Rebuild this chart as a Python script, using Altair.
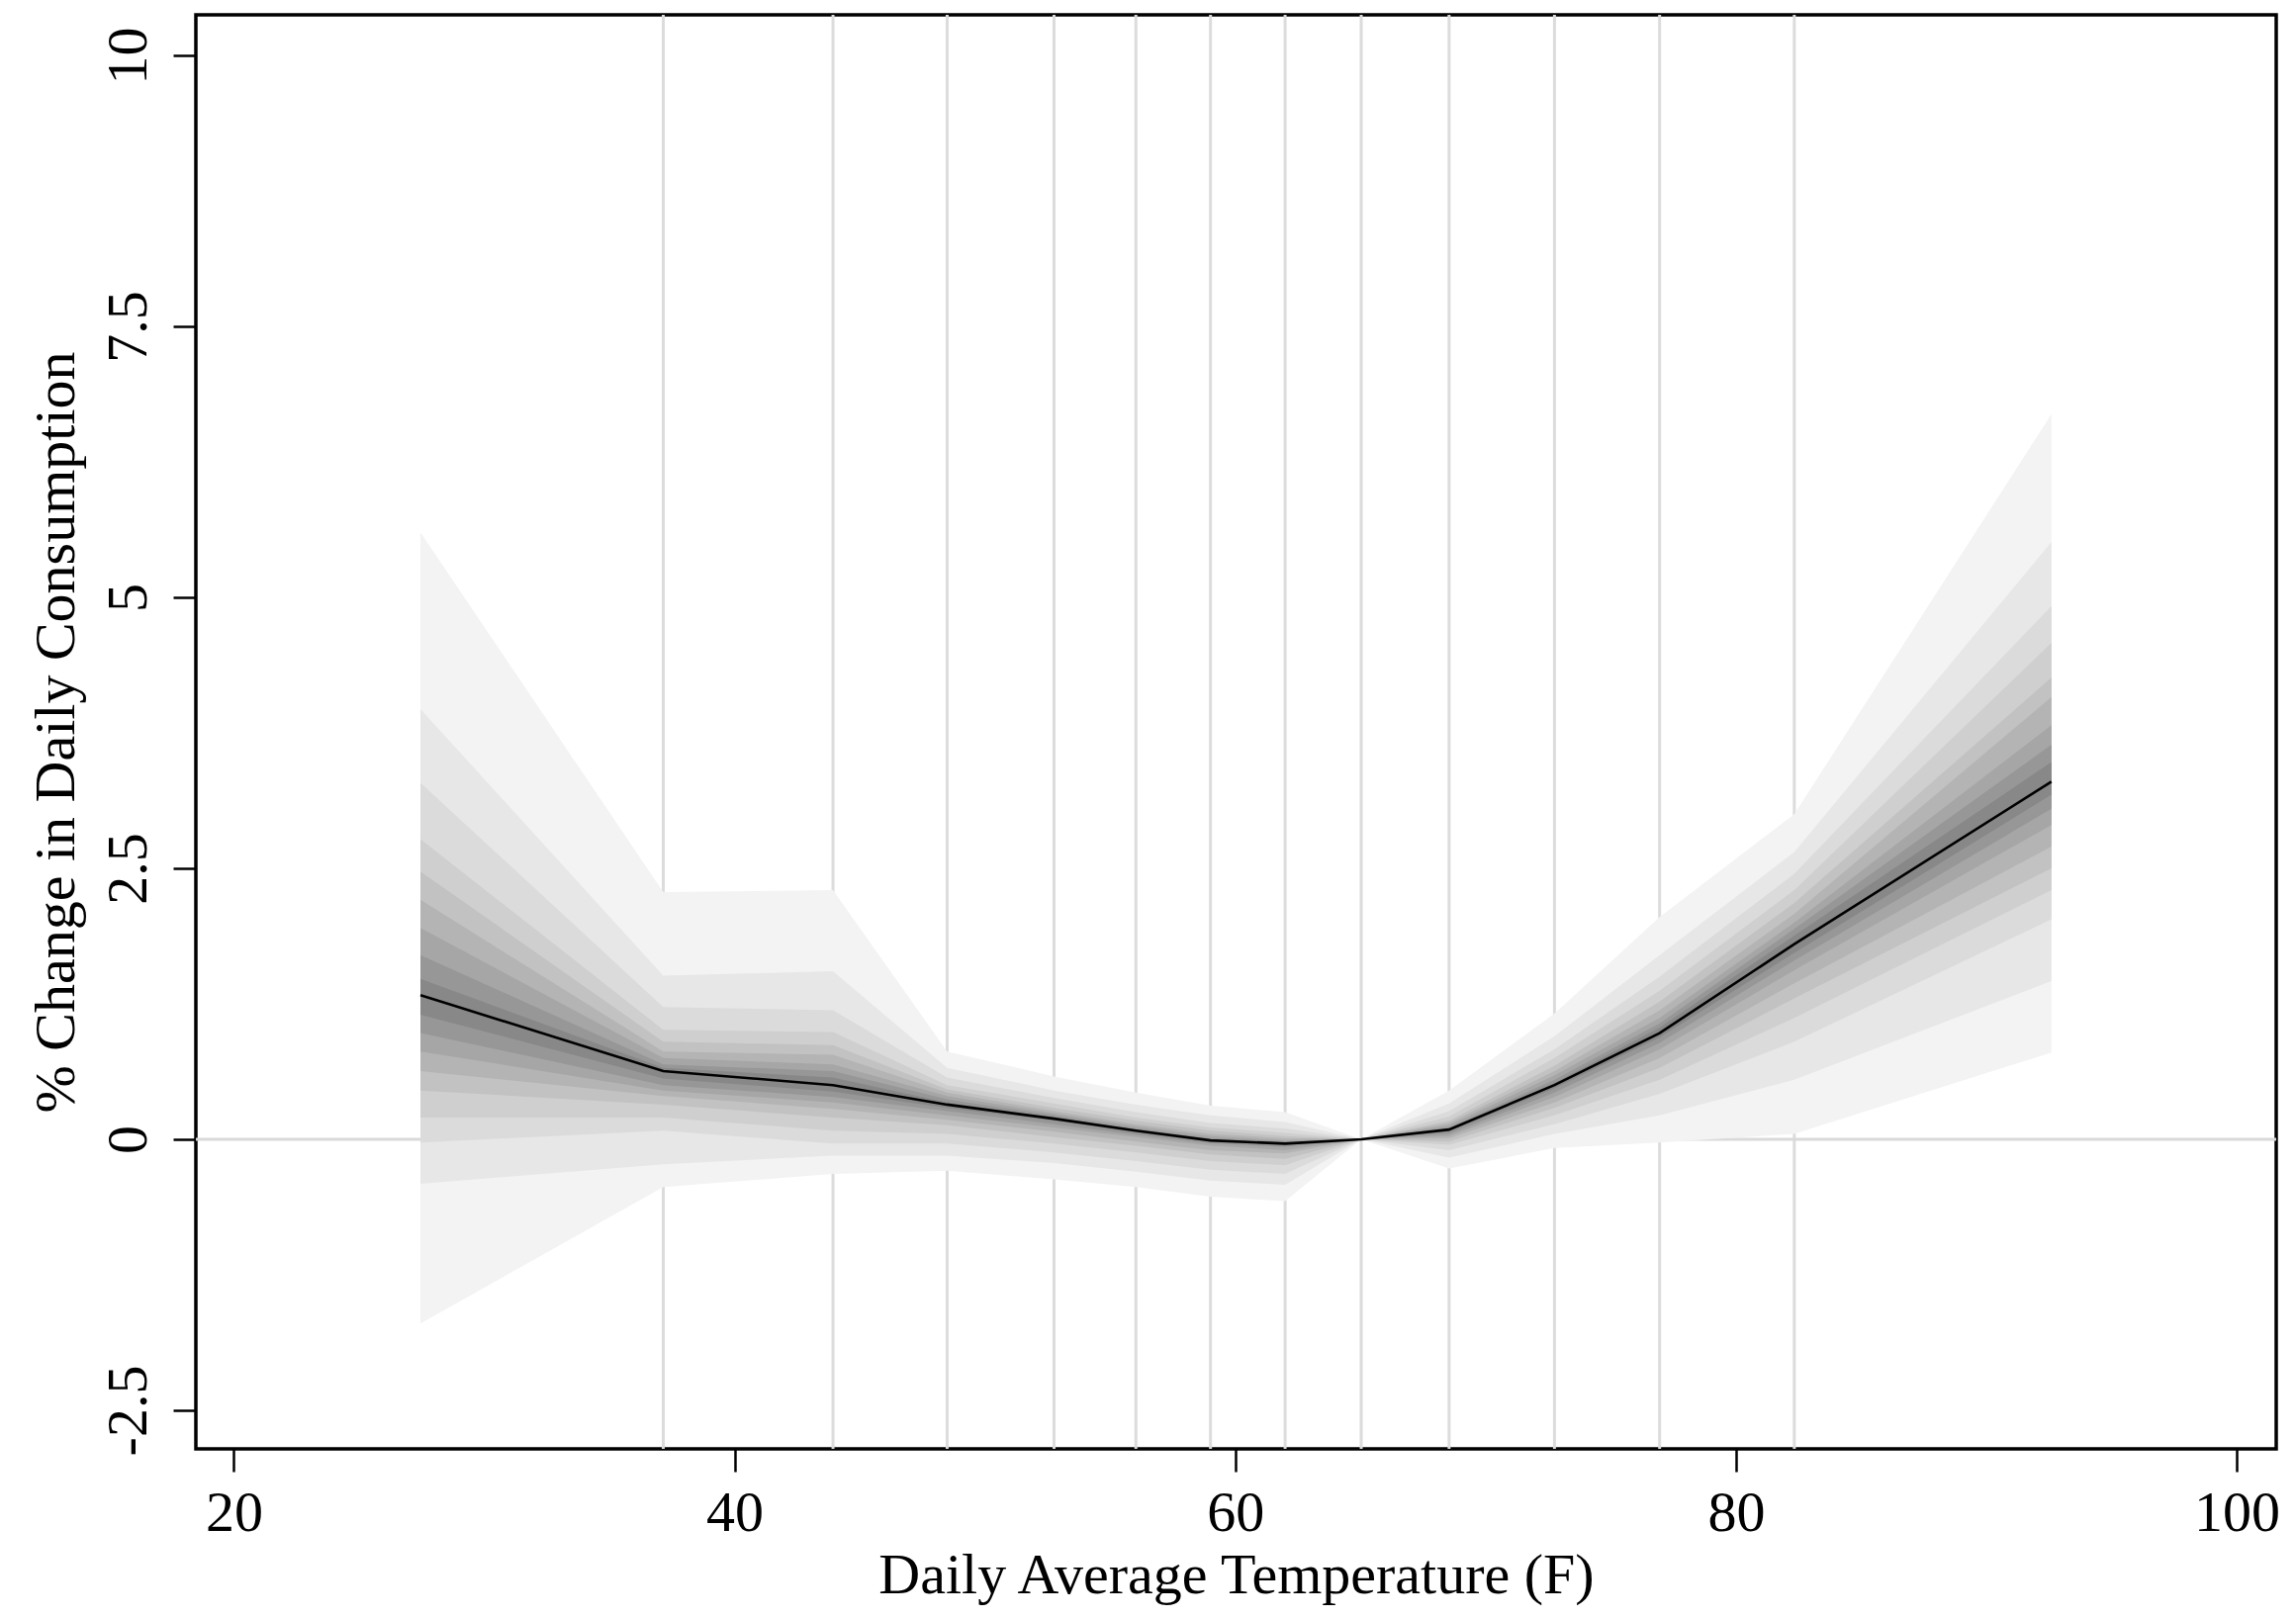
import altair as alt
import pandas as pd

# ---------------- data ----------------
TEMPS = [27.45, 37.15, 43.93, 48.49, 52.76, 56.03, 59.01, 61.99, 65.03,
         68.54, 72.75, 76.95, 82.33, 92.6]

CENTER = [1.33, 0.63, 0.50, 0.32, 0.19, 0.08, -0.01, -0.04, 0.0,
          0.09, 0.50, 0.98, 1.80, 3.30]

# upper band edges, outermost (U1) to innermost (U9)
U1 = [5.60, 2.28, 2.30, 0.81, 0.58, 0.43, 0.31, 0.25, 0.0, 0.45, 1.16, 2.05, 3.00, 6.69]
U2 = [3.97, 1.51, 1.55, 0.66, 0.45, 0.32, 0.22, 0.16, 0.0, 0.33, 0.95, 1.70, 2.65, 5.51]
U3 = [3.29, 1.22, 1.19, 0.57, 0.38, 0.25, 0.15, 0.10, 0.0, 0.26, 0.83, 1.50, 2.45, 4.92]
U4 = [2.77, 1.01, 0.99, 0.50, 0.33, 0.20, 0.11, 0.06, 0.0, 0.21, 0.75, 1.37, 2.30, 4.58]
U5 = [2.47, 0.90, 0.87, 0.46, 0.29, 0.17, 0.08, 0.03, 0.0, 0.17, 0.68, 1.27, 2.18, 4.26]
U6 = [2.21, 0.81, 0.78, 0.43, 0.26, 0.14, 0.05, 0.01, 0.0, 0.15, 0.63, 1.19, 2.08, 4.08]
U7 = [1.95, 0.75, 0.69, 0.40, 0.24, 0.12, 0.03, -0.01, 0.0, 0.13, 0.59, 1.12, 2.00, 3.82]
U8 = [1.70, 0.69, 0.63, 0.37, 0.22, 0.10, 0.01, -0.02, 0.0, 0.11, 0.55, 1.07, 1.94, 3.64]
U9 = [1.48, 0.66, 0.57, 0.34, 0.20, 0.09, 0.00, -0.03, 0.0, 0.10, 0.52, 1.03, 1.88, 3.48]

# lower band edges, outermost (L1) to innermost (L9)
L1 = [-1.70, -0.44, -0.32, -0.29, -0.37, -0.44, -0.53, -0.57, 0.0, -0.27, -0.08, -0.03, 0.05, 0.80]
L2 = [-0.41, -0.23, -0.15, -0.15, -0.22, -0.30, -0.38, -0.42, 0.0, -0.17, 0.05, 0.22, 0.55, 1.46]
L3 = [-0.03, 0.08, -0.04, -0.04, -0.12, -0.20, -0.28, -0.32, 0.0, -0.10, 0.14, 0.42, 0.90, 2.03]
L4 = [0.20, 0.20, 0.08, 0.05, -0.04, -0.12, -0.20, -0.24, 0.0, -0.05, 0.22, 0.55, 1.12, 2.30]
L5 = [0.45, 0.32, 0.20, 0.13, 0.02, -0.06, -0.14, -0.18, 0.0, -0.02, 0.29, 0.66, 1.30, 2.50]
L6 = [0.63, 0.40, 0.28, 0.18, 0.07, -0.02, -0.10, -0.13, 0.0, 0.01, 0.34, 0.75, 1.44, 2.70]
L7 = [0.81, 0.45, 0.34, 0.22, 0.11, 0.02, -0.06, -0.10, 0.0, 0.03, 0.39, 0.83, 1.56, 2.90]
L8 = [0.98, 0.50, 0.39, 0.26, 0.14, 0.04, -0.04, -0.07, 0.0, 0.05, 0.43, 0.89, 1.65, 3.05]
L9 = [1.15, 0.56, 0.44, 0.29, 0.17, 0.06, -0.02, -0.05, 0.0, 0.07, 0.47, 0.94, 1.72, 3.18]

UPPERS = [U1, U2, U3, U4, U5, U6, U7, U8, U9]
LOWERS = [L1, L2, L3, L4, L5, L6, L7, L8, L9]

X_TICKS = [20, 40, 60, 80, 100]
Y_TICKS = [-2.5, 0, 2.5, 5, 7.5, 10]

X_TITLE = "Daily Average Temperature (F)"
Y_TITLE = "% Change in Daily Consumption"

# ---------------- styling ----------------
BAND_COLORS = ["#f3f3f3", "#e7e7e7", "#dbdbdb", "#cfcfcf", "#c2c2c2",
               "#b4b4b4", "#a6a6a6", "#979797", "#888888"]
FONT = "Liberation Serif"
X_DOMAIN = [18.48, 101.58]
Y_DOMAIN = [-2.856, 10.374]
W, H = 2103, 1450

x_scale = alt.Scale(domain=X_DOMAIN, nice=False, zero=False)
y_scale = alt.Scale(domain=Y_DOMAIN, nice=False, zero=False)

x_axis = alt.Axis(values=X_TICKS, title=X_TITLE, grid=False, domain=False,
                  tickSize=23, tickWidth=2.5, tickColor="black",
                  labelFont=FONT, labelFontSize=58, labelColor="black",
                  labelBaseline="alphabetic", labelPadding=59, labelFlush=False,
                  titleFont=FONT, titleFontSize=58, titleFontWeight="normal",
                  titleColor="black", titleBaseline="alphabetic", titleY=145)
y_axis = alt.Axis(values=Y_TICKS, title=Y_TITLE, grid=False, domain=False,
                  tickSize=23, tickWidth=2.5, tickColor="black",
                  labelFont=FONT, labelFontSize=58, labelColor="black",
                  labelAngle=270, labelAlign="center", labelBaseline="alphabetic",
                  labelPadding=28, labelFlush=False,
                  labelExpr="toString(datum.value)",
                  titleFont=FONT, titleFontSize=58, titleFontWeight="normal",
                  titleColor="black", titleAngle=270, titleBaseline="alphabetic",
                  titleX=-124)

# grid (vertical rules at the bin points) and zero line, drawn behind the fan
grid_df = pd.DataFrame({"t": TEMPS[1:-1]})
grid = alt.Chart(grid_df).mark_rule(color="#dcdcdc", strokeWidth=3).encode(
    x=alt.X("t:Q", scale=x_scale, axis=x_axis)
)
zero_df = pd.DataFrame({"v": [0]})
zero = alt.Chart(zero_df).mark_rule(color="#d9d9d9", strokeWidth=3).encode(
    y=alt.Y("v:Q", scale=y_scale, axis=y_axis)
)

layers = [grid, zero]
for k in range(len(UPPERS)):
    bdf = pd.DataFrame({"t": TEMPS, "lo": LOWERS[k], "hi": UPPERS[k]})
    layers.append(
        alt.Chart(bdf).mark_area(color=BAND_COLORS[k], opacity=1,
                                 interpolate="linear").encode(
            x=alt.X("t:Q", scale=x_scale, axis=x_axis),
            y=alt.Y("lo:Q", scale=y_scale, axis=y_axis),
            y2="hi:Q",
        )
    )

cdf = pd.DataFrame({"t": TEMPS, "c": CENTER})
center = alt.Chart(cdf).mark_line(color="black", strokeWidth=2.6).encode(
    x=alt.X("t:Q", scale=x_scale, axis=x_axis),
    y=alt.Y("c:Q", scale=y_scale, axis=y_axis),
)
layers.append(center)

chart = alt.layer(*layers).properties(
    width=W, height=H,
    autosize=alt.AutoSizeParams(type="none"),
    padding={"left": 198, "top": 15, "right": 20, "bottom": 170},
    background="white",
).configure_view(stroke="black", strokeWidth=3.5)

chart.save("out.html", embed_options={"renderer": "svg", "actions": False})
